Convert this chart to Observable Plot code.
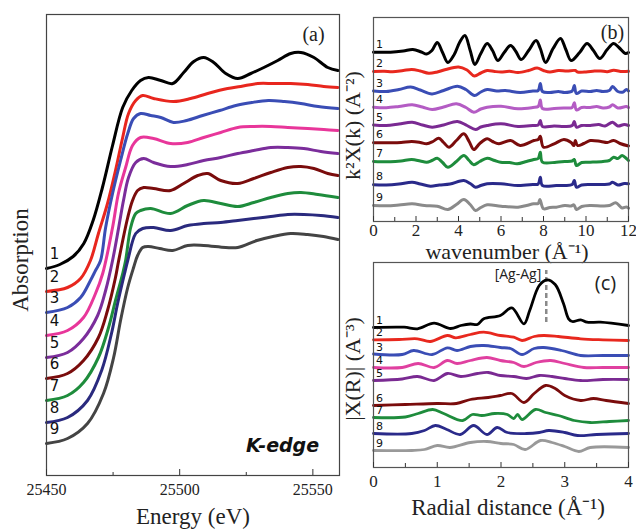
<!DOCTYPE html>
<html><head><meta charset="utf-8">
<script src="https://cdn.jsdelivr.net/npm/d3@7"></script>
<script src="https://cdn.jsdelivr.net/npm/@observablehq/plot@0.6"></script>
<style>
html,body{margin:0;padding:0;background:#fff;}
#chart{position:relative;width:636px;height:531px;overflow:hidden;background:#fff;}
#chart svg{position:absolute;left:0;top:0;}
</style></head><body><div id="chart"></div>
<script>
// ---------- shared ----------
const sampleLabels = ["1","2","3","4","5","6","7","8","9"];

// ---------- panel (a): XANES, Energy (eV) vs absorption (a.u.) ----------
const aColors = ["#000000","#e8261e","#3a4db5","#e8369a","#7b2d9b","#7a0c0c","#1e8c3c","#2a2a7e","#444444"];
const xanes1 = [[25450,2.07],[25455,2.11],[25460,2.19],[25464,2.32],[25467.5,2.55],[25471,2.88],[25474.8,3.30],[25478.6,3.68],[25482,3.85],[25485.3,3.95],[25488.3,3.98],[25492.9,3.95],[25497.4,3.92],[25501.5,4.03],[25505.3,4.14],[25509,4.18],[25512.8,4.13],[25517.3,4.02],[25521.8,3.97],[25526.7,4.02],[25531.6,4.08],[25536.8,4.15],[25541.7,4.22],[25545.5,4.23],[25550.4,4.18],[25555.6,4.08],[25559.4,4.05]];
const xanes2 = [[25450,1.84],[25457.9,1.88],[25462.8,1.97],[25466.5,2.15],[25469.5,2.42],[25472.9,2.72],[25475.9,3.05],[25478.6,3.38],[25480.8,3.62],[25483.5,3.75],[25486.1,3.80],[25490.2,3.77],[25497.7,3.74],[25504.1,3.77],[25510.5,3.82],[25518,3.87],[25522.9,3.89],[25529.3,3.92],[25535.3,3.92],[25541.7,3.92],[25548.1,3.91],[25554.1,3.89],[25559.4,3.88]];
const xanes3 = [[25450,1.63],[25457.9,1.68],[25462.8,1.78],[25466.5,1.95],[25468.4,2.05],[25470.3,2.15],[25472.2,2.48],[25474.8,2.82],[25477.8,3.15],[25480.5,3.42],[25482.7,3.57],[25485.3,3.62],[25489.1,3.60],[25492.9,3.58],[25497.7,3.53],[25502.6,3.55],[25508.6,3.60],[25515,3.65],[25521.1,3.70],[25527.1,3.73],[25533.3,3.75],[25539.3,3.74],[25545.5,3.72],[25552,3.69],[25559.4,3.67]];
const xanes4 = [[25450,1.40],[25457.9,1.45],[25463.9,1.58],[25468.4,1.82],[25471.1,2.02],[25474.8,2.48],[25477,2.82],[25479.7,3.08],[25482.3,3.30],[25485.3,3.38],[25490.2,3.37],[25496.6,3.32],[25503,3.33],[25509,3.38],[25515.4,3.43],[25521.8,3.48],[25527.8,3.49],[25534.2,3.49],[25540.6,3.48],[25548.1,3.47],[25554.1,3.46],[25559.4,3.45]];
const xanes5 = [[25450,1.18],[25457.9,1.23],[25463.9,1.37],[25469.2,1.60],[25472.2,1.85],[25474.8,2.15],[25477.1,2.48],[25478.9,2.75],[25480.8,2.98],[25483.5,3.13],[25486.5,3.17],[25490.2,3.13],[25496.6,3.09],[25503,3.11],[25509,3.15],[25515.4,3.18],[25521.8,3.22],[25527.8,3.25],[25534.2,3.28],[25540.6,3.28],[25546.6,3.27],[25553,3.24],[25559.4,3.22]];
const xanes6 = [[25450,0.97],[25457.9,1.02],[25463.9,1.15],[25469.5,1.38],[25472.9,1.65],[25475.9,1.98],[25477.1,2.15],[25480.5,2.58],[25482.3,2.75],[25484.2,2.85],[25486.5,2.88],[25490.2,2.87],[25496.6,2.85],[25501.5,2.92],[25506.8,3.00],[25510.5,3.02],[25515.4,2.95],[25521.8,2.92],[25527.8,2.97],[25534.2,3.03],[25540.6,3.08],[25545.5,3.09],[25550.4,3.07],[25555.6,3.02],[25559.4,3.00]];
const xanes7 = [[25450,0.75],[25457.9,0.80],[25463.9,0.93],[25469.5,1.18],[25473.3,1.48],[25475.9,1.75],[25478.6,2.02],[25479.7,2.15],[25481.6,2.48],[25483.5,2.62],[25485.3,2.65],[25489.1,2.67],[25496.6,2.62],[25503,2.70],[25509,2.75],[25515.4,2.72],[25521.8,2.69],[25527.8,2.73],[25534.2,2.78],[25540.6,2.82],[25545.5,2.83],[25551.9,2.81],[25559.4,2.78]];
const xanes8 = [[25450,0.53],[25457.9,0.58],[25465.4,0.75],[25470.7,1.05],[25474.4,1.42],[25476.7,1.72],[25479.3,2.02],[25480.5,2.15],[25483.5,2.42],[25486.1,2.47],[25490.2,2.48],[25496.6,2.45],[25503,2.50],[25509,2.52],[25515.4,2.53],[25521.8,2.55],[25527.8,2.57],[25534.2,2.59],[25540.6,2.61],[25546.6,2.61],[25553,2.60],[25559.4,2.58]];
const xanes9 = [[25450,0.32],[25457.9,0.37],[25465.4,0.52],[25471.4,0.82],[25475.2,1.18],[25477.8,1.55],[25480.5,1.88],[25482.7,2.08],[25484.2,2.20],[25486.1,2.28],[25488.3,2.29],[25492.5,2.27],[25497.4,2.25],[25503,2.30],[25509,2.30],[25517.3,2.28],[25521.8,2.28],[25529,2.35],[25535,2.39],[25541.7,2.42],[25548,2.41],[25554,2.39],[25559.4,2.36]];
const xanesSeries = [xanes1,xanes2,xanes3,xanes4,xanes5,xanes6,xanes7,xanes8,xanes9];
const aTicks = [25450,25500,25550];
const aMinorTicks = [25475,25525];

// ---------- panel (b): k^2 chi(k) vs wavenumber ----------
const bColors = ["#000000","#e8281e","#3a4db5","#b45cc4","#7a2a92","#7a0c0c","#1e8c3c","#2a2a8a","#8a8a8a"];
const exafs1 = [[0,16.93],[0.8,16.93],[1.4,17.05],[1.85,17.2],[2.25,16.95],[2.5,16.75],[2.75,17.1],[3.0,17.9],[3.25,16.9],[3.5,15.9],[3.8,16.7],[4.05,17.9],[4.3,18.6],[4.55,17.1],[4.77,15.7],[5.05,16.8],[5.35,17.8],[5.6,17.1],[5.85,16.1],[6.15,16.9],[6.45,17.6],[6.7,17.0],[6.95,16.2],[7.3,17.1],[7.65,18.1],[7.85,17.3],[8.1,15.9],[8.45,17.3],[8.8,18.3],[9.05,17.2],[9.3,16.1],[9.7,16.9],[10.05,17.8],[10.35,17.1],[10.65,16.3],[11.0,17.2],[11.3,17.8],[11.55,17.4],[11.85,16.8],[12,16.9]];
const exafs2 = [[0,15.0],[0.5,15.02],[0.9,14.98],[1.4,15.1],[1.8,15.2],[2.2,15.05],[2.6,14.82],[3.0,14.95],[3.4,15.2],[4.0,15.45],[4.4,15.15],[4.75,14.55],[5.05,14.85],[5.35,15.1],[5.7,15.0],[6.0,14.95],[6.4,15.02],[6.8,14.9],[7.3,15.1],[7.7,15.35],[8.0,15.1],[8.3,14.95],[8.7,15.1],[9.1,15.05],[9.5,15.1],[9.6,14.95],[10.0,14.95],[10.4,15.05],[10.7,15.05],[11.0,14.98],[11.3,15.12],[11.7,15.0],[12,15.02]];
const exafs3 = [[0,13.05],[0.6,13.0],[1.2,13.2],[1.75,13.45],[2.2,13.15],[2.75,12.75],[3.3,13.1],[3.95,13.53],[4.35,13.2],[4.75,12.6],[5.05,12.95],[5.35,13.2],[5.8,13.05],[6.2,13.1],[6.9,12.9],[7.5,13.05],[7.75,13.1],[7.85,13.8],[7.95,13.0],[8.3,12.9],[8.7,13.0],[9.0,12.9],[9.35,13.05],[9.45,13.6],[9.55,12.8],[9.8,13.05],[10.2,13.0],[10.5,13.1],[10.8,13.0],[11.1,13.1],[11.25,13.5],[11.5,13.0],[11.75,12.95],[11.9,13.2],[12,13.05]];
const exafs4 = [[0,11.43],[0.6,11.38],[1.2,11.5],[1.82,11.67],[2.3,11.45],[2.76,11.2],[3.3,11.45],[3.9,11.77],[4.35,11.4],[4.72,10.93],[5.05,11.25],[5.35,11.43],[6.0,11.53],[6.8,11.27],[7.5,11.4],[7.75,11.5],[7.85,12.15],[7.95,11.3],[8.5,11.3],[9.0,11.35],[9.35,11.4],[9.45,11.87],[9.55,11.15],[9.8,11.4],[10.2,11.4],[10.5,11.5],[10.8,11.35],[11.1,11.45],[11.25,11.67],[11.5,11.35],[11.9,11.5],[12,11.4]];
const exafs5 = [[0,9.65],[0.6,9.6],[1.2,9.75],[1.82,9.93],[2.3,9.65],[2.76,9.43],[3.3,9.65],[3.95,10.0],[4.4,9.6],[4.8,9.2],[5.05,9.45],[5.35,9.6],[6.0,9.77],[6.8,9.5],[7.5,9.6],[7.75,9.65],[7.85,10.1],[7.95,9.5],[8.5,9.55],[9.0,9.5],[9.35,9.6],[9.45,10.0],[9.55,9.43],[9.8,9.6],[10.2,9.6],[10.6,9.7],[10.9,9.55],[11.25,9.93],[11.5,9.55],[11.8,9.7],[12,9.6]];
const exafs6 = [[0,7.87],[0.8,7.87],[1.3,7.9],[1.8,8.0],[2.2,7.9],[2.5,7.77],[2.8,8.0],[3.07,8.33],[3.3,7.9],[3.55,7.43],[3.9,8.1],[4.25,8.77],[4.5,8.0],[4.72,7.2],[5.0,7.8],[5.35,8.27],[5.6,8.0],[5.9,7.77],[6.45,8.1],[6.9,7.6],[7.55,8.1],[7.75,8.2],[7.85,8.53],[8.0,7.43],[8.5,7.77],[8.96,8.2],[9.3,7.9],[9.43,7.6],[9.5,8.1],[9.6,7.6],[9.9,7.8],[10.2,8.1],[10.7,8.0],[11.0,7.9],[11.3,8.1],[11.6,7.8],[12,7.55]];
const exafs7 = [[0,6.0],[0.8,5.97],[1.3,6.05],[1.8,6.2],[2.2,6.05],[2.5,5.93],[2.75,6.1],[3.0,6.33],[3.25,5.9],[3.5,5.43],[3.9,6.0],[4.25,6.6],[4.5,6.1],[4.72,5.67],[5.0,6.0],[5.35,6.33],[5.7,6.1],[5.98,5.93],[6.4,5.9],[6.76,5.77],[7.2,6.0],[7.54,6.2],[7.75,6.3],[7.85,6.93],[7.95,5.93],[8.6,5.93],[9.0,6.0],[9.35,6.05],[9.45,6.2],[9.55,5.6],[9.8,5.9],[10.2,5.93],[10.8,6.0],[11.1,6.1],[11.3,6.43],[11.5,6.3],[11.7,6.6],[11.9,6.3],[12,6.1]];
const exafs8 = [[0,3.67],[0.6,3.65],[1.2,3.75],[1.82,3.93],[2.2,3.75],[2.68,3.53],[3.1,3.65],[3.6,3.75],[4.25,4.1],[4.55,3.8],[4.8,3.43],[5.05,3.6],[5.35,3.77],[6.0,3.77],[6.8,3.6],[7.5,3.7],[7.75,3.75],[7.85,4.43],[7.95,3.6],[8.6,3.6],[9.0,3.6],[9.35,3.7],[9.45,4.1],[9.55,3.43],[9.8,3.65],[10.2,3.7],[10.8,3.7],[11.1,3.75],[11.25,3.93],[11.5,3.65],[11.8,3.8],[12,3.77]];
const exafs9 = [[0,1.6],[0.6,1.57],[1.2,1.65],[1.82,1.77],[2.4,1.6],[3.0,1.53],[3.5,1.2],[3.9,1.7],[4.25,2.2],[4.55,1.7],[4.8,1.1],[5.05,1.4],[5.35,1.67],[6.0,1.53],[6.8,1.43],[7.2,1.6],[7.54,1.77],[7.75,1.8],[7.83,2.2],[8.0,1.27],[8.3,1.4],[8.6,1.43],[9.0,1.6],[9.3,1.55],[9.43,1.67],[9.55,1.2],[9.8,1.5],[10.2,1.6],[10.8,1.55],[11.1,1.6],[11.4,1.87],[11.7,1.35],[11.9,1.45],[12,1.33]];
const exafsSeries = [exafs1,exafs2,exafs3,exafs4,exafs5,exafs6,exafs7,exafs8,exafs9];
const bTicks = [0,2,4,6,8,10,12];
const bMinorTicks = [1,3,5,7,9,11];

// ---------- panel (c): |chi(R)| vs radial distance ----------
const cColors = ["#000000","#e8281e","#3a4db5","#e040a0","#7a2a92","#7a0c0c","#1e8c3c","#2a2a8a","#999999"];
const ft1 = [[0,14.0],[0.48,14.03],[0.69,13.87],[0.95,14.43],[1.21,13.9],[1.37,14.2],[1.52,14.35],[1.63,14.3],[1.73,14.87],[1.99,15.2],[2.17,15.97],[2.36,14.37],[2.45,15.7],[2.6,18.2],[2.72,18.77],[2.85,18.3],[2.98,16.4],[3.06,14.87],[3.12,14.6],[3.25,14.77],[3.35,14.53],[3.56,14.53],[4.0,14.2]];
const ft2 = [[0,12.77],[0.4,12.8],[0.69,12.87],[0.89,12.6],[1.16,13.2],[1.29,12.97],[1.52,13.3],[1.73,13.53],[1.99,13.2],[2.2,13.03],[2.33,12.7],[2.52,13.1],[2.67,13.2],[2.9,13.1],[3.25,12.87],[3.6,12.77],[4.0,12.7]];
const ft3 = [[0,11.35],[0.45,11.3],[0.63,11.7],[0.92,11.3],[1.16,11.97],[1.31,11.7],[1.52,12.1],[1.73,12.2],[1.99,12.0],[2.15,11.9],[2.33,11.3],[2.52,11.9],[2.67,12.0],[2.95,11.7],[3.25,11.2],[3.6,11.2],[4.0,11.2]];
const ft4 = [[0,10.0],[0.45,10.0],[0.7,10.4],[0.95,10.0],[1.16,10.7],[1.31,10.4],[1.52,10.7],[1.78,11.0],[1.99,10.7],[2.2,10.5],[2.36,10.1],[2.55,10.5],[2.78,10.7],[3.0,10.4],[3.3,10.0],[3.6,10.0],[4.0,10.0]];
const ft5 = [[0,8.7],[0.45,8.85],[0.69,9.1],[0.95,8.7],[1.16,9.4],[1.37,9.1],[1.63,9.4],[1.8,9.5],[1.99,9.2],[2.2,9.1],[2.4,8.9],[2.6,9.2],[2.8,9.1],[3.0,8.9],[3.25,8.7],[3.6,8.8],[4.0,8.8]];
const ft6 = [[0,6.2],[0.5,6.3],[1.0,6.4],[1.3,6.4],[1.52,6.8],[1.8,7.0],[1.99,7.2],[2.17,7.4],[2.36,6.5],[2.52,7.4],[2.7,8.2],[2.85,7.9],[3.0,7.2],[3.25,6.7],[3.45,6.9],[3.65,6.7],[4.0,6.4]];
const ft7 = [[0,5.0],[0.5,5.05],[0.7,5.4],[0.93,5.8],[1.1,5.4],[1.4,4.7],[1.55,5.3],[1.7,5.2],[1.9,5.4],[2.1,5.3],[2.2,4.9],[2.26,5.3],[2.33,4.8],[2.54,5.8],[2.7,5.5],[2.9,5.2],[3.15,4.7],[3.4,4.5],[3.7,4.6],[4.0,4.7]];
const ft8 = [[0,3.4],[0.6,3.4],[0.8,3.7],[0.97,4.2],[1.15,3.8],[1.36,3.3],[1.57,4.2],[1.78,3.3],[1.94,4.0],[2.1,3.5],[2.4,3.4],[2.6,3.5],[2.75,3.7],[3.0,3.5],[3.2,3.2],[3.5,3.3],[4.0,3.4]];
const ft9 = [[0,1.7],[0.6,1.7],[0.8,1.8],[1.0,2.2],[1.2,2.0],[1.52,2.5],[1.78,2.6],[2.0,2.4],[2.2,2.3],[2.38,1.8],[2.62,2.7],[2.8,2.5],[3.0,2.1],[3.22,1.6],[3.4,2.0],[4.0,2.0]];
const ftSeries = [ft1,ft2,ft3,ft4,ft5,ft6,ft7,ft8,ft9];
const cTicks = [0,1,2,3,4];
const cMinorTicks = [0.5,1.5,2.5,3.5];
const agAgMarker = [{r: 2.71, top: 19.7, bottom: 14.5, label: "[Ag-Ag]"}];

// ---------- rendering ----------
const SERIF = "Liberation Serif, 'Times New Roman', serif";
const SANS = "'DejaVu Sans', sans-serif";
const SANS2 = "'Open Sans', 'Liberation Sans', sans-serif";
const chart = document.getElementById("chart");

function startLabels(series) {
  return series.map((s, i) => ({x: s[0][0], y: s[0][1], t: sampleLabels[i]}));
}
function note(str, o) {
  return Plot.text([str], {text: d => d, textAnchor: "middle", lineAnchor: "middle", ...o});
}

function panel(opts) {
  return Plot.plot({
    width: 636, height: 531,
    marginLeft: opts.ml, marginRight: opts.mr, marginTop: opts.mt, marginBottom: opts.mb,
    x: {domain: opts.xDomain, axis: null},
    y: {domain: opts.yDomain, axis: null},
    style: {background: "transparent", fontFamily: SERIF, color: "#222", overflow: "visible"},
    marks: opts.marks
  });
}

// Panel (a)
const pa = panel({
  ml: 46, mr: 636 - 339, mt: 14, mb: 531 - 475,
  xDomain: [25450, 25560], yDomain: [0, 4.61],
  marks: [
    ...xanesSeries.map((s, i) => Plot.line(s, {stroke: aColors[i], strokeWidth: 3, curve: "catmull-rom"})),
    Plot.text(startLabels(xanesSeries), {x: "x", y: "y", text: "t", dx: 8, dy: -14, fontSize: 15, fontFamily: SANS, fill: "#111"}),
    Plot.frame({stroke: "#444", strokeWidth: 1.2}),
    Plot.axisX(aTicks, {anchor: "bottom", tickSize: 0, tickPadding: 8, fontSize: 16, label: null, tickFormat: d => String(d)}),
    Plot.axisX(aTicks, {anchor: "bottom", tickSize: -6, tickFormat: () => "", label: null, stroke: "#333"}),
    Plot.axisX(aMinorTicks, {anchor: "bottom", tickSize: -3, tickFormat: () => "", label: null, stroke: "#333"}),
    note("(a)", {frameAnchor: "top-right", dx: -26, dy: 20, fontSize: 20, fontFamily: SERIF}),
    note("K-edge", {frameAnchor: "bottom-right", dx: -57, dy: -30, fontSize: 19, fontFamily: SANS, fontWeight: "bold", fontStyle: "italic", fill: "#111"}),
    note("Energy (eV)", {frameAnchor: "bottom", dy: 41, fontSize: 23, fontFamily: SERIF}),
    note("Absorption", {frameAnchor: "left", dx: -26, dy: 15, rotate: -90, fontSize: 23, fontFamily: SERIF})
  ]
});

// Panel (b)
const pb = panel({
  ml: 373, mr: 8, mt: 17, mb: 531 - 221,
  xDomain: [0, 12], yDomain: [0, 20.4],
  marks: [
    ...exafsSeries.map((s, i) => Plot.line(s, {stroke: bColors[i], strokeWidth: 3, curve: "catmull-rom"})),
    Plot.text(startLabels(exafsSeries), {x: "x", y: "y", text: "t", dx: 6, dy: -8, fontSize: 11, fontFamily: SANS, fill: "#111"}),
    Plot.frame({stroke: "#555", strokeWidth: 1.2}),
    Plot.axisX(bTicks, {anchor: "bottom", tickSize: 0, tickPadding: 2, fontSize: 17, label: null, tickFormat: d => String(d)}),
    Plot.axisX(bTicks, {anchor: "bottom", tickSize: -5, tickFormat: () => "", label: null, stroke: "#333"}),
    Plot.axisX(bMinorTicks, {anchor: "bottom", tickSize: -4, tickFormat: () => "", label: null, stroke: "#333"}),
    note("(b)", {frameAnchor: "top-right", dx: -16, dy: 15, fontSize: 20, fontFamily: SERIF}),
    note("wavenumber (Å⁻¹)", {frameAnchor: "bottom", dx: 6, dy: 30, fontSize: 22, fontFamily: SERIF}),
    note("k²X(k) (A⁻²)", {frameAnchor: "left", dx: -21, dy: 6, rotate: -90, fontSize: 22, fontFamily: SERIF})
  ]
});

// Panel (c)
const pc = panel({
  ml: 373, mr: 8, mt: 262, mb: 531 - 467,
  xDomain: [0, 4], yDomain: [0, 20.5],
  marks: [
    Plot.ruleX(agAgMarker, {x: "r", y1: "bottom", y2: "top", stroke: "#8a8a8a", strokeWidth: 2.5, strokeDasharray: "5,3"}),
    ...ftSeries.map((s, i) => Plot.line(s, {stroke: cColors[i], strokeWidth: 2.8, curve: "catmull-rom"})),
    Plot.text(agAgMarker, {x: "r", y: "top", text: "label", textAnchor: "end", lineAnchor: "middle", dx: -5, dy: 4, fontSize: 14, fontFamily: SANS2, fill: "#222"}),
    Plot.text(startLabels(ftSeries), {x: "x", y: "y", text: "t", dx: 6, dy: -7, fontSize: 11, fontFamily: SANS, fill: "#111"}),
    Plot.frame({stroke: "#555", strokeWidth: 1.2}),
    Plot.axisX(cTicks, {anchor: "bottom", tickSize: 0, tickPadding: 7, fontSize: 17, label: null, tickFormat: d => String(d)}),
    Plot.axisX(cTicks, {anchor: "bottom", tickSize: -5, tickFormat: () => "", label: null, stroke: "#333"}),
    Plot.axisX(cMinorTicks, {anchor: "bottom", tickSize: -4, tickFormat: () => "", label: null, stroke: "#333"}),
    note("(c)", {frameAnchor: "top-right", dx: -23, dy: 21, fontSize: 20, fontFamily: SANS2}),
    note("Radial distance (Å⁻¹)", {frameAnchor: "bottom", dx: 7, dy: 40, fontSize: 23, fontFamily: SERIF}),
    note("|X(R)| (A⁻³)", {frameAnchor: "left", dx: -21, dy: 4, rotate: -90, fontSize: 22, fontFamily: SERIF})
  ]
});

chart.appendChild(pa);
chart.appendChild(pb);
chart.appendChild(pc);
</script>
</body></html>
